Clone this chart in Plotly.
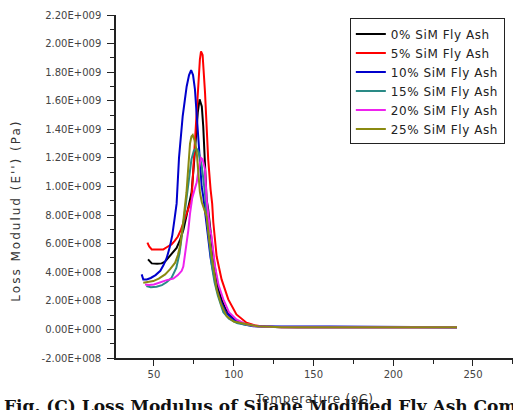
import plotly.graph_objects as go

# Loss modulus (units of 1e8 Pa) vs temperature (oC)
series_names = [
    "0% SiM Fly Ash",
    "5% SiM Fly Ash",
    "10% SiM Fly Ash",
    "15% SiM Fly Ash",
    "20% SiM Fly Ash",
    "25% SiM Fly Ash",
]
series_colors = ["#000000", "#ff0000", "#0000cc", "#2a8a86", "#ee22ee", "#8a8a10"]

temp_0 = [46.3, 48.6, 52, 54.8, 57, 59, 61.5, 64.2, 66.5, 68.5, 70.5, 72, 73.6, 75,
          76.3, 77.5, 78.6, 80, 80.9, 82, 83, 84, 85.5, 87.2, 88.8, 90.4, 93, 95,
          97.6, 100, 104, 108, 113, 120, 140, 180, 220, 240]
loss_0 = [4.9, 4.62, 4.6, 4.62, 4.75, 5.0, 5.3, 5.7, 6.3, 7.0, 8.0, 8.8, 9.6, 11.5,
          13.5, 15.2, 16.1, 15.6, 14.2, 11.4, 9.1, 8.4, 6.6, 5.1, 3.9, 2.8, 1.9, 1.4,
          1.05, 0.75, 0.5, 0.35, 0.25, 0.18, 0.15, 0.15, 0.15, 0.15]

temp_5 = [45.9, 47, 48.6, 52, 55.9, 58, 61, 63, 65, 67, 69, 71, 73.6, 75, 76.8, 78,
          78.8, 79.5, 80.5, 82, 84, 85.5, 86.5, 87.2, 89.3, 92.4, 96.6, 101.7, 108,
          113, 118, 130, 180, 220, 240]
loss_5 = [6.07, 5.8, 5.6, 5.58, 5.6, 5.75, 5.95, 6.2, 6.5, 7.0, 7.6, 8.3, 9.1, 11.9,
          15.4, 17.5, 18.9, 19.45, 19.2, 16.6, 11.9, 9.8, 8.8, 7.5, 5.1, 3.5, 2.1,
          1.05, 0.47, 0.3, 0.2, 0.15, 0.15, 0.15, 0.15]

temp_10 = [42.3, 43.3, 45.5, 48, 51, 54, 56, 58, 60, 61.5, 63, 64.2, 65.7, 67, 68,
           69.3, 70.5, 72, 73.3, 74.5, 75.7, 76.8, 77.8, 79, 79.9, 80.9, 82.5, 84,
           85.5, 87.2, 89, 91.4, 95, 99.7, 105, 112.2, 120, 130, 160, 200, 235, 240]
loss_10 = [3.85, 3.5, 3.5, 3.6, 3.8, 4.1, 4.5, 5.0, 5.8, 6.6, 7.8, 8.8, 12.0, 13.8,
           14.9, 16.0, 17.0, 17.8, 18.15, 17.8, 16.8, 15.0, 13.1, 11.5, 10.0, 9.3,
           7.8, 6.3, 5.0, 4.0, 3.0, 2.1, 1.2, 0.7, 0.4, 0.23, 0.2, 0.2, 0.2, 0.2,
           0.2, 0.15]

temp_15 = [45.2, 48, 51.6, 55, 57.9, 61, 64, 66, 67.4, 69, 70.5, 72, 73.5, 75, 76.5,
           78, 79.9, 81, 82, 83, 84.5, 86.2, 88, 90, 93.5, 97, 102, 108, 115, 130,
           240]
loss_15 = [3.03, 2.95, 2.99, 3.1, 3.3, 3.6, 4.3, 5.3, 6.5, 7.9, 9.3, 10.8, 11.9,
           12.5, 12.7, 12.4, 11.5, 10.5, 9.5, 8.0, 6.2, 4.5, 3.3, 2.4, 1.2, 0.75,
           0.45, 0.3, 0.2, 0.15, 0.15]

temp_20 = [44.4, 47, 50, 53.8, 58, 62.1, 65, 67.4, 68.4, 69.4, 70.5, 71.5, 72.6, 74,
           75.5, 76.8, 78, 79.5, 80.5, 82, 83, 85.1, 86, 87.2, 88.3, 90.5, 93.5, 97,
           101.7, 107, 114, 130, 180, 240]
loss_20 = [3.15, 3.1, 3.15, 3.3, 3.45, 3.55, 3.8, 4.1, 4.4, 5.2, 6.0, 6.9, 8.1, 9.2,
           9.8, 10.3, 11.2, 12.0, 11.9, 11.2, 9.1, 7.0, 6.6, 5.6, 4.4, 3.1, 2.1, 1.2,
           0.7, 0.4, 0.23, 0.15, 0.15, 0.15]

temp_25 = [43.3, 46, 49.6, 53, 57, 60, 63.3, 65, 66.5, 68, 69.3, 70.4, 71.5, 72.6,
           73.5, 74.3, 75.5, 76.8, 77.8, 78.8, 80, 81.5, 83, 84.5, 86.2, 87.8, 89.3,
           92, 95.6, 100, 108, 115, 130, 180, 240]
loss_25 = [3.27, 3.3, 3.38, 3.55, 3.85, 4.2, 4.67, 5.2, 5.9, 7.2, 8.4, 9.6, 11.3,
           13.0, 13.5, 13.6, 13.2, 12.4, 11.0, 9.6, 8.9, 8.4, 7.9, 6.4, 5.1, 3.9,
           2.8, 1.8, 0.93, 0.55, 0.35, 0.22, 0.15, 0.15, 0.15]

y_tickvals = [-2e8, 0, 2e8, 4e8, 6e8, 8e8, 1e9, 1.2e9, 1.4e9, 1.6e9, 1.8e9, 2e9, 2.2e9]
y_ticktext = ["-2.00E+008", "0.00E+000", "2.00E+008", "4.00E+008", "6.00E+008",
              "8.00E+008", "1.00E+009", "1.20E+009", "1.40E+009", "1.60E+009",
              "1.80E+009", "2.00E+009", "2.20E+009"]
x_tickvals = [50, 100, 150, 200, 250]

temps = [temp_0, temp_5, temp_10, temp_15, temp_20, temp_25]
losses = [loss_0, loss_5, loss_10, loss_15, loss_20, loss_25]


def spaced(s, px):
    # the original uses loosely spaced lettering
    return '<span style="letter-spacing:%spx">%s</span>' % (px, s)


fig = go.Figure()

for name, color, t, l in zip(series_names, series_colors, temps, losses):
    fig.add_trace(
        go.Scatter(
            x=t,
            y=[v * 1e8 for v in l],
            mode="lines",
            name=spaced(name, 0.55),
            line=dict(color=color, width=2),
        )
    )

fig.update_xaxes(
    range=[26.2, 275.1],
    tickvals=x_tickvals,
    ticks="outside",
    ticklen=6,
    tickwidth=1,
    tickcolor="#222",
    minor=dict(ticks="outside", dtick=25, tick0=25, ticklen=4, tickcolor="#222"),
    showline=True,
    linecolor="#222",
    linewidth=1.5,
    showgrid=False,
    zeroline=False,
    tickfont=dict(family="DejaVu Sans", size=10, color="#444"),
)
fig.update_yaxes(
    range=[-2e8, 2.2e9],
    tickvals=y_tickvals,
    ticktext=y_ticktext,
    ticks="outside",
    ticklen=7,
    tickwidth=1,
    tickcolor="#222",
    ticklabelstandoff=4,
    minor=dict(ticks="outside", dtick=1e8, ticklen=4, tickcolor="#222"),
    showline=True,
    linecolor="#222",
    linewidth=1.5,
    showgrid=False,
    zeroline=False,
    tickfont=dict(family="DejaVu Sans", size=10, color="#444"),
)

# caption, axis titles
fig.add_annotation(
    text="<b>Fig. (C) Loss Modulus of Silane Modified Fly Ash Composites</b>",
    xref="paper", yref="paper", x=-0.287, y=-0.105,
    xanchor="left", yanchor="top", showarrow=False,
    font=dict(family="DejaVu Serif", size=17, color="#111"),
)
fig.add_annotation(
    text=spaced("Temperature (oC)", 0.8),
    xref="paper", yref="paper", x=0.5, y=-0.093,
    xanchor="center", yanchor="top", showarrow=False,
    font=dict(family="DejaVu Sans", size=12, color="#333"),
)
fig.add_annotation(
    text=spaced("Loss Modulud (E'') (Pa)", 2),
    xref="paper", yref="paper", x=-0.254, y=0.43,
    xanchor="center", yanchor="middle", textangle=-90, showarrow=False,
    font=dict(family="DejaVu Sans", size=12, color="#333"),
)

fig.update_layout(
    width=513,
    height=410,
    margin=dict(l=116, r=0, t=15, b=52),
    paper_bgcolor="white",
    plot_bgcolor="white",
    showlegend=True,
    legend=dict(
        x=0.589, y=0.99, xanchor="left", yanchor="top",
        bordercolor="#222", borderwidth=1, bgcolor="white",
        font=dict(family="DejaVu Sans", size=12, color="#222"),
        tracegroupgap=0, itemwidth=30,
    ),
)

fig.write_html(
    "out.html",
    config={"displayModeBar": False},
    post_script="document.body.style.margin='0';",
)
